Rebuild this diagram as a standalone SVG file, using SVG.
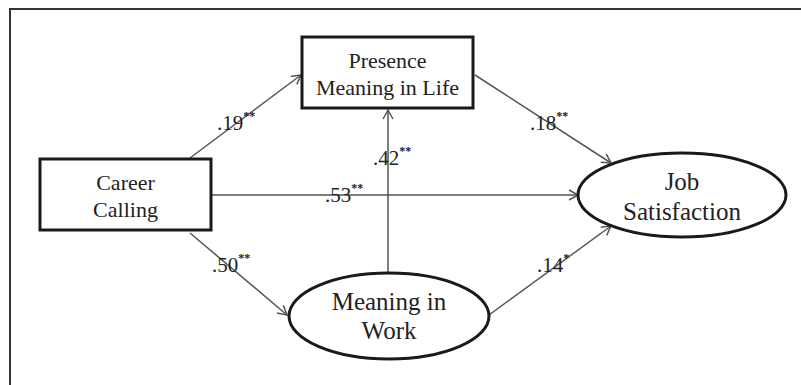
<svg xmlns="http://www.w3.org/2000/svg" width="801" height="385" viewBox="0 0 801 385">
<style>
.node{fill:#fff;stroke:#1a1a1a;stroke-width:3}
.edge{fill:none;stroke:#555;stroke-width:1.5}
.t{font-family:"Liberation Serif","Times New Roman",serif;fill:#222;text-anchor:middle}
.lbl{font-family:"Liberation Serif","Times New Roman",serif;fill:#222;font-size:21px}
.sup{font-size:12px;font-weight:bold}
</style>
<defs>
<marker id="arr" markerUnits="userSpaceOnUse" markerWidth="14" markerHeight="14" refX="11" refY="7" orient="auto">
<polyline points="2,2 11,7 2,12" fill="none" stroke="#555" stroke-width="1.5"/>
</marker>
</defs>
<rect x="0" y="0" width="801" height="385" fill="#fff"/>
<rect x="10" y="9" width="820" height="420" fill="none" stroke="#333" stroke-width="2"/>
<g id="connectors">
<line class="edge" x1="190" y1="158" x2="301" y2="75" marker-end="url(#arr)"/>
<line class="edge" x1="212" y1="195" x2="578" y2="195" stroke="#777" stroke-width="2" marker-end="url(#arr)"/>
<line class="edge" x1="190" y1="233" x2="287" y2="315" marker-end="url(#arr)"/>
<line class="edge" x1="475" y1="75" x2="611" y2="163" marker-end="url(#arr)"/>
<line class="edge" x1="388" y1="273" x2="388" y2="110" stroke="#333" marker-end="url(#arr)"/>
<line class="edge" x1="489" y1="315" x2="611" y2="226" marker-end="url(#arr)"/>
</g>
<g id="labels">
<text class="lbl" x="217" y="130">.19<tspan class="sup" dy="-10">**</tspan></text>
<text class="lbl" x="530" y="130">.18<tspan class="sup" dy="-10">**</tspan></text>
<text class="lbl" x="373" y="165">.42<tspan class="sup" dy="-10">**</tspan></text>
<text class="lbl" x="325" y="202">.53<tspan class="sup" dy="-10">**</tspan></text>
<text class="lbl" x="212" y="272">.50<tspan class="sup" dy="-10">**</tspan></text>
<text class="lbl" x="537" y="272">.14<tspan class="sup" dy="-10">*</tspan></text>
</g>
<g id="presence">
<rect class="node" x="302" y="37" width="171" height="71"/>
<text class="t" x="387.5" y="68" font-size="22">Presence</text>
<text class="t" x="387.5" y="95" font-size="22">Meaning in Life</text>
</g>
<g id="career">
<rect class="node" x="40" y="159" width="171" height="71"/>
<text class="t" x="125.5" y="190" font-size="22">Career</text>
<text class="t" x="125.5" y="217" font-size="22">Calling</text>
</g>
<g id="job">
<ellipse class="node" cx="682" cy="195" rx="104" ry="42"/>
<text class="t" x="682" y="190" font-size="25">Job</text>
<text class="t" x="682" y="220" font-size="25">Satisfaction</text>
</g>
<g id="work">
<ellipse class="node" cx="389" cy="316" rx="100" ry="43"/>
<text class="t" x="389" y="310" font-size="25">Meaning in</text>
<text class="t" x="389" y="339" font-size="25">Work</text>
</g>
</svg>
